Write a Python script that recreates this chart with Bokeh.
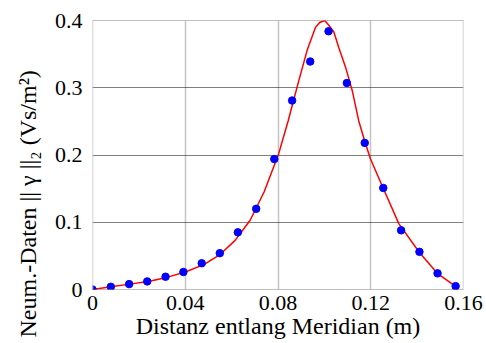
from bokeh.plotting import figure
from bokeh.models import Range1d, FixedTicker, CustomJSTickFormatter, Span, Title
from bokeh.embed import file_html
from bokeh.resources import INLINE

# measured data points (blue markers)
x_pts = [0.0, 0.0079, 0.0158, 0.0236, 0.0315, 0.0392, 0.0471, 0.0549, 0.0627, 0.0706,
         0.0784, 0.0861, 0.0939, 0.1018, 0.1097, 0.1174, 0.1254, 0.1331, 0.1410, 0.1488, 0.1566]
y_pts = [0.000, 0.004, 0.008, 0.012, 0.019, 0.026, 0.039, 0.054, 0.085, 0.120,
         0.194, 0.281, 0.339, 0.384, 0.307, 0.218, 0.151, 0.088, 0.056, 0.024, 0.005]

# reference curve (red line)
x_line = [0.0, 0.008, 0.016, 0.024, 0.032, 0.040, 0.048, 0.055, 0.0615, 0.068, 0.074,
          0.0803, 0.0844, 0.089, 0.0926, 0.0962, 0.098, 0.1002, 0.1019, 0.1041, 0.1062,
          0.1091, 0.112, 0.1148, 0.1177, 0.1199, 0.1252, 0.1321, 0.141, 0.1487, 0.1566]
y_line = [0.0, 0.004, 0.008, 0.012, 0.018, 0.026, 0.037, 0.052, 0.073, 0.103, 0.145,
          0.202, 0.251, 0.311, 0.356, 0.390, 0.397, 0.400, 0.393, 0.383, 0.360,
          0.331, 0.296, 0.251, 0.217, 0.194, 0.152, 0.098, 0.055, 0.024, 0.0045]

x_ticks = [0, 0.04, 0.08, 0.12, 0.16]
y_ticks = [0, 0.1, 0.2, 0.3, 0.4]
x_label = "Distanz entlang Meridian (m)"
y_label = "Neum.-Daten || \u03b3 ||\u2082 (Vs/m\u00b2)"

FONT = "Liberation Serif"
VGRID = "#c4c4c4"
HGRID = "#000000"

p = figure(frame_width=371, frame_height=269, min_border_left=92, min_border_right=23,
           min_border_top=20, min_border_bottom=54,
           x_range=Range1d(0, 0.16), y_range=Range1d(0, 0.4),
           output_backend="svg", toolbar_location=None)
p.outline_line_color = None
p.background_fill_color = "white"
p.border_fill_color = "white"

# frame edges (grid lines at range ends are not drawn by the grid)
for xv in (x_ticks[0], x_ticks[-1]):
    p.add_layout(Span(location=xv, dimension="height", line_color=VGRID, line_width=1.5))
for yv in (y_ticks[0], y_ticks[-1]):
    p.add_layout(Span(location=yv, dimension="width", line_color=HGRID,
                      line_width=1, line_dash="1 1"))

p.line(x_line, y_line, line_color="#ff0000", line_width=1.5)
p.scatter(x_pts, y_pts, size=7.5, fill_color="#0000ff", line_color="#0000ff")

fmt = CustomJSTickFormatter(code="return tick === 0 ? '0' : String(parseFloat(tick.toFixed(4)));")
p.xaxis.ticker = FixedTicker(ticks=x_ticks)
p.yaxis.ticker = FixedTicker(ticks=y_ticks)
p.xaxis.formatter = fmt
p.yaxis.formatter = fmt

for ax in (p.xaxis[0], p.yaxis[0]):
    ax.axis_line_color = None
    ax.major_tick_line_color = None
    ax.minor_tick_line_color = None
    ax.major_tick_out = 0
    ax.minor_tick_out = 0
    ax.major_label_text_font = FONT
    ax.major_label_text_font_size = "22px"
    ax.major_label_text_color = "black"
    ax.axis_label_text_font = FONT
    ax.axis_label_text_font_size = "24px"
    ax.axis_label_text_font_style = "normal"
    ax.axis_label_text_color = "black"

p.xaxis.major_label_standoff = 6
p.yaxis.major_label_standoff = 10
p.xaxis.axis_label = x_label
p.xaxis.axis_label_standoff = 0

# y axis title: anchored at the frame bottom and shifted downward, as in the reference
ytitle = Title(text=y_label, align="left", offset=-48, vertical_align="top",
               standoff=18, text_font=FONT, text_font_size="24px",
               text_font_style="normal", text_color="black")
p.add_layout(ytitle, "left")

p.xgrid.ticker = FixedTicker(ticks=x_ticks)
p.ygrid.ticker = FixedTicker(ticks=y_ticks)
p.xgrid.grid_line_color = VGRID
p.xgrid.grid_line_width = 1.5
p.ygrid.grid_line_color = HGRID
p.ygrid.grid_line_dash = "1 1"
p.ygrid.grid_line_width = 1

open("out.html", "w").write(file_html(p, INLINE))
